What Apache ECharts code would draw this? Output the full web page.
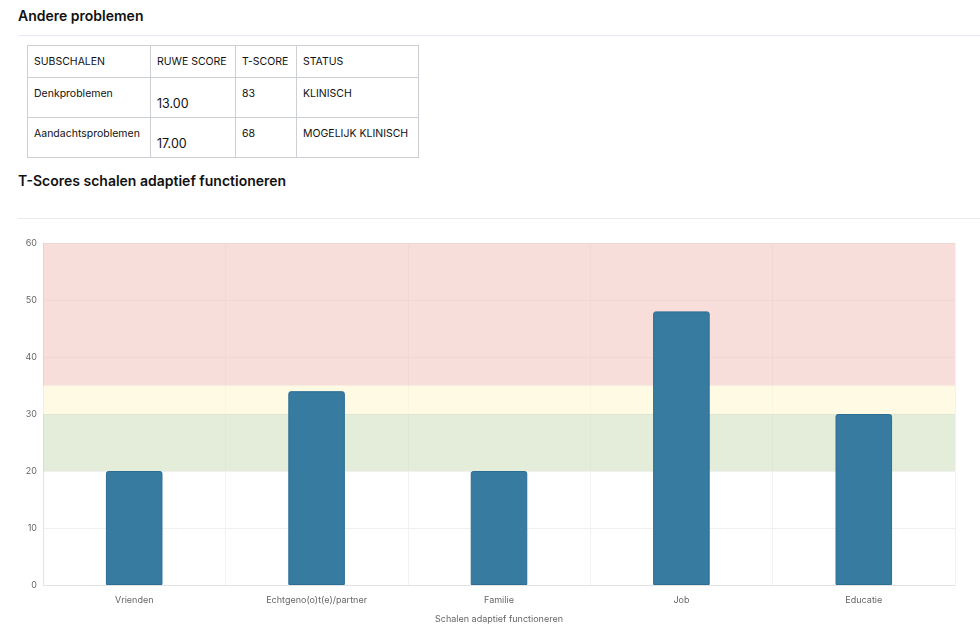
<!DOCTYPE html>
<html>
<head>
<meta charset="utf-8">
<script src="https://cdn.jsdelivr.net/npm/echarts@6/dist/echarts.min.js"></script>
<style>
  html, body { margin: 0; padding: 0; background: #fff; width: 980px; height: 633px; overflow: hidden; font-family: Inter, "Noto Sans", sans-serif; color: #111; }
  h3 { position: absolute; left: 18px; margin: 0; font-size: 14px; font-weight: 600; white-space: nowrap; }
  .sep { position: absolute; left: 18px; right: 0; height: 1px; background: #e6ebf3; }
  table { position: absolute; left: 27px; top: 45px; border-collapse: collapse; font-size: 10.5px; table-layout: fixed; width: 391px; }
  td { border: 1px solid #ccd0d4; padding: 0 6px; vertical-align: top; white-space: nowrap; overflow: hidden; }
  tr.head td { height: 31px; vertical-align: middle; }
  tr.row td { height: 40px; padding-top: 9px; box-sizing: border-box; }
  td.raw { font-size: 12.5px; padding-top: 18px !important; }
  #chart { position: absolute; left: 0; top: 225px; width: 980px; height: 408px; }
</style>
</head>
<body>
<h3 style="top:7px">Andere problemen</h3>
<div class="sep" style="top:35px"></div>
<table>
  <colgroup><col style="width:123px"><col style="width:85px"><col style="width:61px"><col style="width:122px"></colgroup>
  <tr class="head"><td>SUBSCHALEN</td><td>RUWE SCORE</td><td>T-SCORE</td><td>STATUS</td></tr>
  <tr class="row"><td>Denkproblemen</td><td class="raw">13.00</td><td>83</td><td>KLINISCH</td></tr>
  <tr class="row"><td>Aandachtsproblemen</td><td class="raw">17.00</td><td>68</td><td>MOGELIJK KLINISCH</td></tr>
</table>
<h3 style="top:172px">T-Scores schalen adaptief functioneren</h3>
<div class="sep" style="top:218px"></div>
<div id="chart"></div>
<script>
// schalen en T-scores
var categories = ['Vrienden', 'Echtgeno(o)t(e)/partner', 'Familie', 'Job', 'Educatie'];
var tScores = [20, 34, 20, 48, 30];
var yTicks = [0, 10, 20, 30, 40, 50, 60];

// achtergrondzones: [van, tot]
var greenBand = [20, 30];
var yellowBand = [30, 35];
var redBand = [35, 60];

var chart = echarts.init(document.getElementById('chart'));

var option = {
  animation: false,
  grid: { left: 43, right: 25, top: 18, bottom: 48 },
  xAxis: {
    type: 'category',
    data: categories,
    name: 'Schalen adaptief functioneren',
    nameLocation: 'middle',
    nameGap: 30,
    nameTextStyle: { color: '#666', fontSize: 9, fontFamily: 'Inter' },
    axisLine: { lineStyle: { color: '#e3e3e3' } },
    axisTick: { show: false },
    axisLabel: { color: '#666', fontSize: 9, fontFamily: 'Inter', margin: 11 },
    splitLine: { show: true, lineStyle: { color: '#f2f2f2' } }
  },
  yAxis: {
    type: 'value',
    min: yTicks[0],
    max: yTicks[yTicks.length - 1],
    interval: 10,
    axisLine: { show: true, lineStyle: { color: '#e3e3e3' } },
    axisTick: { show: false },
    axisLabel: { color: '#666', fontSize: 9, fontFamily: 'Inter', margin: 6 },
    splitLine: { lineStyle: { color: '#f0f0f0' } }
  },
  series: [{
    type: 'bar',
    data: tScores,
    barWidth: '31%',
    itemStyle: { color: '#377ba0', borderColor: '#2b6d93', borderWidth: 1, borderRadius: [2, 2, 0, 0] },
    markArea: {
      silent: true,
      data: [
        [{ yAxis: greenBand[0], itemStyle: { color: 'rgba(200,220,180,0.5)' } }, { yAxis: greenBand[1] }],
        [{ yAxis: yellowBand[0], itemStyle: { color: 'rgba(254,246,210,0.6)' } }, { yAxis: yellowBand[1] }],
        [{ yAxis: redBand[0], itemStyle: { color: 'rgba(242,190,182,0.5)' } }, { yAxis: redBand[1] }]
      ]
    },
    z: 3
  }]
};

chart.setOption(option);
</script>
</body>
</html>
